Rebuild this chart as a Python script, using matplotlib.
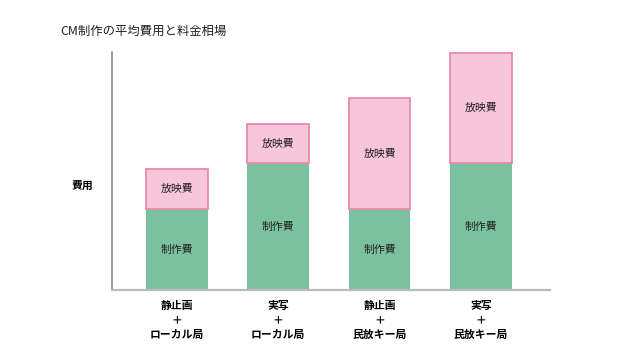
import matplotlib
matplotlib.use("Agg")
import matplotlib.pyplot as plt

plt.rcParams['font.family'] = ['Noto Sans CJK JP', 'DejaVu Sans']

categories = ["静止画\n＋\nローカル局", "実写\n＋\nローカル局", "静止画\n＋\n民放キー局", "実写\n＋\n民放キー局"]
production = [81, 127, 81, 127]
broadcast = [40, 39, 111, 110]
seg_labels = ["制作費", "放映費"]

fig = plt.figure(figsize=(6.4, 3.6), dpi=100)
ax = fig.add_axes([0.175, 0.1944, 0.684, 0.6612])

x = list(range(len(categories)))
w = 0.61
green = "#7AC29F"
pink_fill = "#F8C6DA"
pink_edge = "#E98AAE"

ax.bar(x, production, width=w, color=green, edgecolor=green, linewidth=0)
ax.bar(x, broadcast, width=w, bottom=production, color=pink_fill, edgecolor=pink_edge, linewidth=1.3)

for xi, p, b in zip(x, production, broadcast):
    ax.text(xi, p / 2, seg_labels[0], ha='center', va='center', fontsize=7.8, color='#222222')
    ax.text(xi, p + b / 2, seg_labels[1], ha='center', va='center', fontsize=7.8, color='#222222')

ax.set_xlim(-0.642, 3.68)
ax.set_ylim(0, 238)
ax.set_xticks(x)
ax.set_xticklabels(categories, fontsize=7.8, fontweight='bold', linespacing=1.55)
ax.tick_params(axis='x', length=0, pad=8)
ax.set_yticks([])

for s in ['top', 'right']:
    ax.spines[s].set_visible(False)
ax.spines['left'].set_color('#888888')
ax.spines['left'].set_linewidth(1.2)
ax.spines['bottom'].set_color('#BBBBBB')
ax.spines['bottom'].set_linewidth(1.6)

fig.text(82 / 640, 1 - 186 / 360, "費用", ha='center', va='center', fontsize=7.8, fontweight='bold')
fig.text(60 / 640, 1 - 31 / 360, "CM制作の平均費用と料金相場", ha='left', va='center', fontsize=8.9, color='#222222')

fig.savefig("out.png", dpi=100)
